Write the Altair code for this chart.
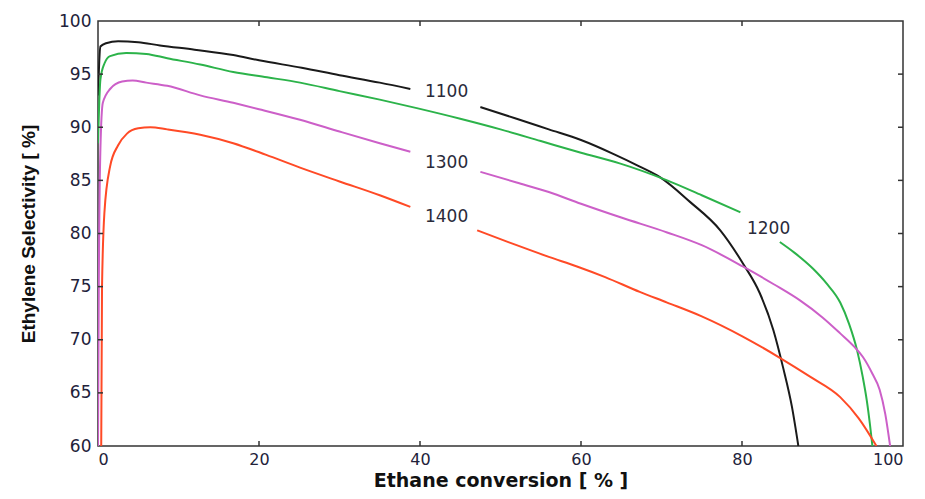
import altair as alt
import pandas as pd

X_TICKS = [0, 20, 40, 60, 80, 100]
Y_TICKS = [60, 65, 70, 75, 80, 85, 90, 95, 100]
SERIES = ["1100", "1200", "1300", "1400"]
COLORS = ["#1a1a1a", "#2cb34a", "#cc5fc8", "#ff4a26"]

# 1100 K (black)
S1100_A_X = [0.0, 0.3, 1.0, 2.5, 5.0, 7.7, 12.0, 16.8, 20.0, 25.3, 30.0, 35.0, 38.8]
S1100_A_Y = [93.0, 97.6, 97.9, 98.1, 98.0, 97.7, 97.3, 96.8, 96.3, 95.6, 94.9, 94.2, 93.6]
S1100_B_X = [47.5, 52.0, 56.0, 60.0, 64.0, 67.3, 69.8, 73.5, 77.3, 80.1, 82.2, 83.9, 85.1, 86.2, 87.0]
S1100_B_Y = [91.9, 90.8, 89.8, 88.8, 87.5, 86.3, 85.3, 83.0, 80.3, 77.2, 74.4, 70.9, 67.4, 63.7, 60.0]

# 1200 K (green)
S1200_A_X = [0.0, 0.3, 0.8, 1.5, 3.5, 6.0, 8.6, 12.7, 16.8, 21.0, 25.1, 30.0, 35.0, 39.6,
             45.0, 50.0, 55.0, 60.0, 64.8, 70.7, 75.0, 79.8]
S1200_A_Y = [88.5, 94.5, 96.0, 96.7, 97.0, 96.9, 96.5, 95.9, 95.2, 94.7, 94.2, 93.4, 92.6, 91.8,
             90.8, 89.8, 88.7, 87.6, 86.6, 85.0, 83.6, 82.0]
S1200_B_X = [84.7, 86.5, 88.8, 90.5, 92.2, 93.3, 94.3, 95.0, 95.5, 95.9, 96.2]
S1200_B_Y = [79.2, 78.2, 76.7, 75.3, 73.5, 71.5, 69.0, 66.5, 64.3, 62.0, 60.0]

# 1300 K (magenta)
S1300_A_X = [0.0, 0.1, 0.3, 0.6, 1.5, 3.0, 4.3, 6.0, 8.6, 12.7, 16.8, 20.0, 25.1, 30.0, 35.0, 38.8]
S1300_A_Y = [60.0, 75.0, 88.0, 92.3, 93.6, 94.3, 94.4, 94.2, 93.9, 93.0, 92.3, 91.7, 90.7, 89.6, 88.5, 87.7]
S1300_B_X = [47.5, 52.0, 56.0, 60.0, 65.0, 70.7, 75.0, 80.1, 84.0, 87.2, 90.0, 92.2, 94.0, 95.0,
             96.2, 97.1, 97.8, 98.4]
S1300_B_Y = [85.8, 84.8, 83.9, 82.8, 81.5, 80.1, 78.9, 76.9, 75.2, 73.7, 72.1, 70.6, 69.3, 68.4,
             66.8, 65.3, 63.0, 60.0]

# 1400 K (red)
S1400_A_X = [0.4, 0.5, 0.8, 1.5, 2.5, 3.6, 5.0, 6.5, 8.6, 12.7, 16.8, 20.9, 25.1, 30.0, 35.0, 38.8]
S1400_A_Y = [60.0, 75.0, 82.0, 86.3, 88.3, 89.4, 89.9, 90.0, 89.8, 89.3, 88.5, 87.4, 86.2, 84.9, 83.6, 82.5]
S1400_B_X = [47.1, 52.0, 56.0, 59.5, 63.0, 67.3, 70.7, 75.0, 80.1, 84.7, 88.5, 92.2, 94.5, 96.7]
S1400_B_Y = [80.3, 78.9, 77.8, 76.9, 75.9, 74.5, 73.5, 72.2, 70.3, 68.3, 66.5, 64.6, 62.6, 60.0]

# in-plot labels
LABEL_TEXT = ["1100", "1300", "1400", "1200"]
LABEL_X = [43.3, 43.3, 43.3, 83.3]
LABEL_Y = [93.3, 86.6, 81.6, 80.4]

segments = [
    ("1100", "1100a", S1100_A_X, S1100_A_Y), ("1100", "1100b", S1100_B_X, S1100_B_Y),
    ("1200", "1200a", S1200_A_X, S1200_A_Y), ("1200", "1200b", S1200_B_X, S1200_B_Y),
    ("1300", "1300a", S1300_A_X, S1300_A_Y), ("1300", "1300b", S1300_B_X, S1300_B_Y),
    ("1400", "1400a", S1400_A_X, S1400_A_Y), ("1400", "1400b", S1400_B_X, S1400_B_Y),
]
rows = []
for series, seg, xs, ys in segments:
    for i, (x, y) in enumerate(zip(xs, ys)):
        rows.append({"series": series, "seg": seg, "i": i, "x": x, "y": y})
df = pd.DataFrame(rows)

W, H = 805, 425
xscale = alt.Scale(domain=[0, 100], nice=False, zero=False)
yscale = alt.Scale(domain=[60, 100], nice=False, zero=False)

lines = alt.Chart(df).mark_line(strokeWidth=2, clip=True, interpolate="monotone").encode(
    x=alt.X("x:Q", scale=xscale,
            axis=alt.Axis(values=X_TICKS, ticks=False, tickSize=0, domain=False, grid=False,
                          labelPadding=5, labelFont="DejaVu Sans", labelFontSize=16,
                          labelColor="#22223a", title="Ethane conversion [ % ]",
                          titleFont="DejaVu Sans", titleFontSize=19, titleFontWeight="bold",
                          titleColor="#111", titlePadding=4)),
    y=alt.Y("y:Q", scale=yscale,
            axis=alt.Axis(values=Y_TICKS, ticks=False, tickSize=0, domain=False, grid=False,
                          labelPadding=7, labelFont="DejaVu Sans", labelFontSize=17,
                          labelColor="#22223a", title="Ethylene Selectivity [ %]",
                          titleFont="Liberation Sans", titleFontSize=19, titleFontWeight="bold",
                          titleColor="#111", titlePadding=20)),
    color=alt.Color("series:N", scale=alt.Scale(domain=SERIES, range=COLORS), legend=None),
    detail="seg:N",
    order="i:Q",
)

labels = alt.Chart(pd.DataFrame({"t": LABEL_TEXT, "x": LABEL_X, "y": LABEL_Y})).mark_text(
    font="DejaVu Sans", fontSize=17, color="#2a2a3a"
).encode(x=alt.X("x:Q", scale=xscale), y=alt.Y("y:Q", scale=yscale), text="t:N")

yt = pd.DataFrame({"v": Y_TICKS[1:-1]})
xt = pd.DataFrame({"v": X_TICKS[1:-1]})
tick_style = dict(color="#333", strokeWidth=1.5)
left_ticks = alt.Chart(yt).mark_rule(**tick_style).encode(
    y=alt.Y("v:Q", scale=yscale), x=alt.value(0), x2=alt.value(5))
right_ticks = alt.Chart(yt).mark_rule(**tick_style).encode(
    y=alt.Y("v:Q", scale=yscale), x=alt.value(W - 5), x2=alt.value(W))
bottom_ticks = alt.Chart(xt).mark_rule(**tick_style).encode(
    x=alt.X("v:Q", scale=xscale), y=alt.value(H - 5), y2=alt.value(H))
top_ticks = alt.Chart(xt).mark_rule(**tick_style).encode(
    x=alt.X("v:Q", scale=xscale), y=alt.value(0), y2=alt.value(5))

chart = alt.layer(lines, labels, left_ticks, right_ticks, bottom_ticks, top_ticks).properties(
    width=W, height=H,
    autosize=alt.AutoSizeParams(type="none"),
    padding={"left": 90, "top": 13, "right": 14, "bottom": 47},
    background="white",
).configure_view(stroke="#333", strokeWidth=1.5)

chart.save("out.html", embed_options={"renderer": "svg", "actions": False})
